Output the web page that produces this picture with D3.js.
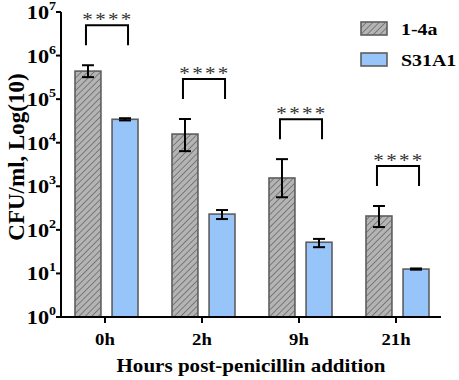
<!DOCTYPE html>
<html><head><meta charset="utf-8">
<script src="https://cdn.jsdelivr.net/npm/d3@7"></script>
<style>body{margin:0;background:#fff}svg{display:block}</style>
</head><body>
<svg id="c" width="459" height="380"></svg>
<script>
const categories = ["0h","2h","9h","21h"];
const series = ["1-4a","S31A1"];
const means_14a = [440000, 15800, 1550, 208];
const errLo_14a = [320000, 6400, 560, 116];
const errHi_14a = [600000, 35000, 4200, 353];
const means_S31 = [34500, 230, 52, 12.6];
const errLo_S31 = [32500, 177, 40, 12.2];
const errHi_S31 = [36500, 285, 62, 13.0];
const sigLabels = ["****","****","****","****"];
const yTicks = [1,10,100,1000,10000,100000,1000000,10000000];
const xTitle = "Hours post-penicillin addition";
const yTitle = "CFU/ml, Log(10)";

(function(){
const font = "'Liberation Serif','Times New Roman',serif";
const SX = 1.17;
const svg = d3.select("#c");
const mLeft = 61, mRight = 441, mTop = 12, mBottom = 317;

const x = d3.scaleBand().domain(categories).range([56.5, 444.5]);
const x1 = d3.scaleBand().domain(series).range([-30, 33]).paddingInner(0.3);
const y = d3.scaleLog().domain([1, 1e7]).range([mBottom, mTop]);

function stext(parent, px, py, anchor, size, bold){
  return parent.append("text").attr("transform",`translate(${px},${py}) scale(${SX},1)`)
    .attr("text-anchor",anchor).attr("font-family",font).attr("font-size",size)
    .attr("font-weight",bold?"bold":"normal").attr("fill","#000");
}

const defs = svg.append("defs");
const pat = defs.append("pattern").attr("id","hatch").attr("patternUnits","userSpaceOnUse")
  .attr("width",4.5).attr("height",4.5).attr("patternTransform","rotate(45)");
pat.append("rect").attr("width",4.5).attr("height",4.5).attr("fill","#b4b4b4");
pat.append("line").attr("x1",0).attr("y1",0).attr("x2",0).attr("y2",4.5).attr("stroke","#5a5a5a").attr("stroke-width",1.3);

const fills = {"1-4a":"url(#hatch)","S31A1":"#97c4f9"};
const data = categories.map((c,i)=>({c, items:[
  {s:"1-4a", v:means_14a[i], lo:errLo_14a[i], hi:errHi_14a[i]},
  {s:"S31A1", v:means_S31[i], lo:errLo_S31[i], hi:errHi_S31[i]}]}));

const g = svg.append("g");
data.forEach((d,i)=>{
  const cx = x(d.c) + x.bandwidth()/2;
  d.items.forEach(it=>{
    const bx = cx + x1(it.s);
    g.append("rect").attr("x",bx).attr("y",y(it.v)).attr("width",x1.bandwidth())
      .attr("height",mBottom - y(it.v)).attr("fill",fills[it.s])
      .attr("stroke","#5e5e5e").attr("stroke-width",1.6);
    const mx = bx + x1.bandwidth()/2;
    const eg = g.append("g").attr("stroke","#000").attr("stroke-width",2);
    eg.append("line").attr("x1",mx).attr("x2",mx).attr("y1",y(it.hi)).attr("y2",y(it.lo));
    eg.append("line").attr("x1",mx-6).attr("x2",mx+6).attr("y1",y(it.hi)).attr("y2",y(it.hi));
    eg.append("line").attr("x1",mx-6).attr("x2",mx+6).attr("y1",y(it.lo)).attr("y2",y(it.lo));
  });
  const maxHi = d3.max(d.items, it=>it.hi);
  const bb = y(maxHi) - 20, bt = bb - 20;
  const lx = cx + x1("1-4a") + x1.bandwidth()/2 - 2;
  const rx = cx + x1("S31A1") + x1.bandwidth()/2 + 3;
  g.append("path").attr("d",`M${lx},${bb}V${bt}H${rx}V${bb}`).attr("fill","none")
    .attr("stroke","#000").attr("stroke-width",2);
  stext(g, (lx+rx)/2 + 1, bt+1, "middle", 18, false).attr("letter-spacing",2).attr("fill","#333")
    .text(sigLabels[i]);
});

const ya = svg.append("g").attr("transform",`translate(${mLeft},0)`);
ya.append("line").attr("x1",0).attr("x2",0).attr("y1",mTop).attr("y2",mBottom).attr("stroke","#000").attr("stroke-width",2);
yTicks.forEach(t=>{
  ya.append("line").attr("x1",-5).attr("x2",0).attr("y1",y(t)).attr("y2",y(t)).attr("stroke","#000").attr("stroke-width",2);
  const tx = stext(ya, -5, y(t)+7, "end", 19, true);
  tx.append("tspan").text("10");
  tx.append("tspan").attr("dy",-9).attr("font-size",12).text(Math.round(Math.log10(t)));
});

const xa = svg.append("g").attr("transform",`translate(0,${mBottom})`);
xa.append("line").attr("x1",mLeft).attr("x2",mRight).attr("stroke","#000").attr("stroke-width",2);
categories.forEach(c=>{
  const cx = x(c)+x.bandwidth()/2;
  xa.append("line").attr("x1",cx).attr("x2",cx).attr("y1",0).attr("y2",6).attr("stroke","#000").attr("stroke-width",2);
  stext(xa, cx, 28, "middle", 16, true).text(c);
});

stext(svg, 251, 372, "middle", 18, true).text(xTitle);
svg.append("text").attr("transform","translate(24,157) rotate(-90)").attr("text-anchor","middle")
  .attr("font-family",font).attr("font-weight","bold").attr("font-size",23).text(yTitle);

series.forEach((s,i)=>{
  const ly = 22 + i*31;
  svg.append("rect").attr("x",361).attr("y",ly).attr("width",26).attr("height",13)
    .attr("fill",fills[s]).attr("stroke","#5e5e5e").attr("stroke-width",1.6);
  stext(svg, 401, ly+13, "start", 17, true).text(s);
});
})();
</script>
</body></html>
